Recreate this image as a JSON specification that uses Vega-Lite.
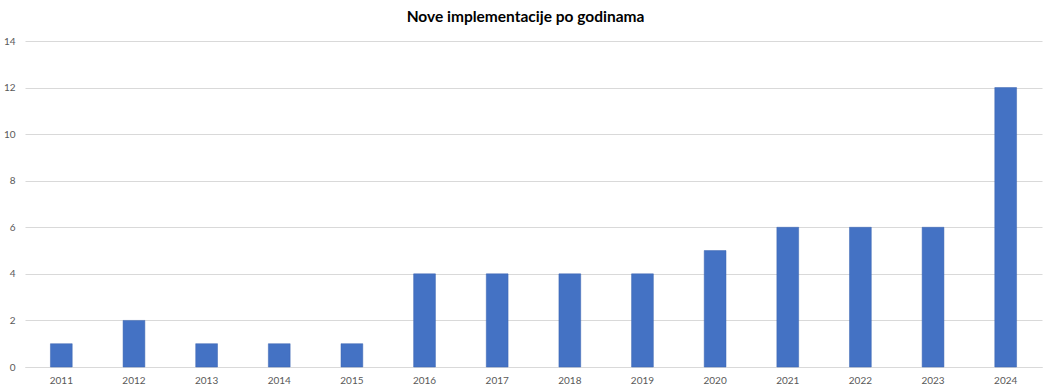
{
  "$schema": "https://vega.github.io/schema/vega-lite/v6.json",
  "width": 1017,
  "height": 326,
  "autosize": {"type": "none"},
  "padding": {"left": 25, "top": 41, "right": 8, "bottom": 23},
  "background": "white",
  "title": {"text": "Nove implementacije po godinama", "font": "Lato", "fontSize": 15.5, "fontWeight": "bold", "color": "#000000", "anchor": "middle", "offset": 11, "dx": -8},
  "data": {"values": [
    {"year": "2011", "count": 1},
    {"year": "2012", "count": 2},
    {"year": "2013", "count": 1},
    {"year": "2014", "count": 1},
    {"year": "2015", "count": 1},
    {"year": "2016", "count": 4},
    {"year": "2017", "count": 4},
    {"year": "2018", "count": 4},
    {"year": "2019", "count": 4},
    {"year": "2020", "count": 5},
    {"year": "2021", "count": 6},
    {"year": "2022", "count": 6},
    {"year": "2023", "count": 6},
    {"year": "2024", "count": 12}
  ]},
  "mark": {"type": "bar", "color": "#4472C4", "stroke": "#3a64b0", "strokeWidth": 0.5},
  "encoding": {
    "x": {"field": "year", "type": "ordinal", "scale": {"paddingInner": 0.7, "paddingOuter": 0.35},
      "axis": {"title": null, "labelAngle": 0, "ticks": false, "domainColor": "#d9d9d9", "labelColor": "#595959", "labelFont": "Lato", "labelFontSize": 10, "labelPadding": 8}},
    "y": {"field": "count", "type": "quantitative", "scale": {"domain": [0, 14]},
      "axis": {"title": null, "values": [0, 2, 4, 6, 8, 10, 12, 14], "domain": false, "ticks": false, "gridColor": "#d9d9d9", "labelColor": "#595959", "labelFont": "Lato", "labelFontSize": 10, "labelPadding": 10}}
  },
  "config": {"view": {"stroke": null}}
}
